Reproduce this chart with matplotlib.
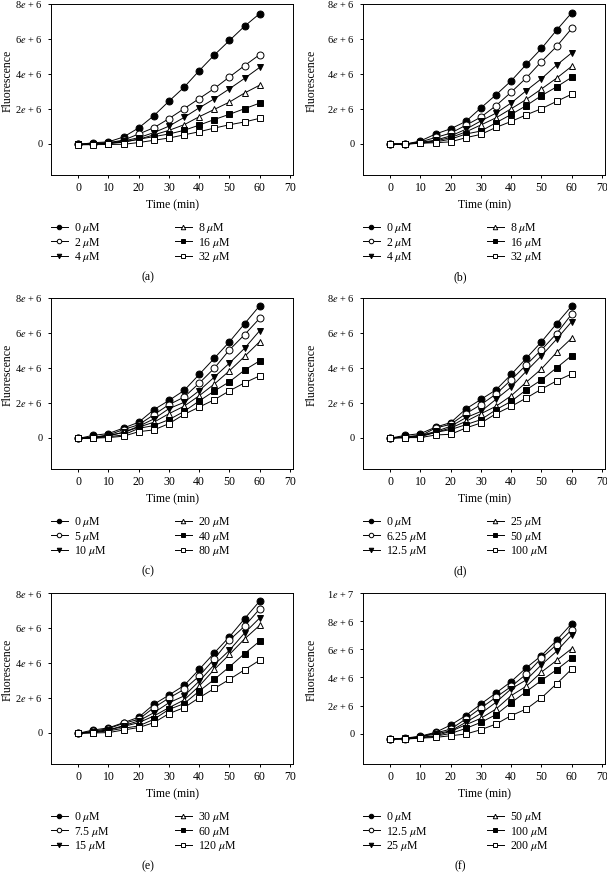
import matplotlib
matplotlib.use("Agg")
import matplotlib.pyplot as plt

plt.rcParams["font.family"] = ["Liberation Serif", "DejaVu Serif"]
plt.rcParams["mathtext.fontset"] = "stix"

W, H = 607, 876

time = [0, 5, 10, 15, 20, 25, 30, 35, 40, 45, 50, 55, 60]

# fluorescence values, in units of 1e6
conc_a = ["0", "2", "4", "8", "16", "32"]
fluo_a = [
    [-0.05, 0.05, 0.10, 0.38, 0.90, 1.60, 2.43, 3.23, 4.18, 5.08, 5.91, 6.73, 7.45],
    [-0.05, 0.00, 0.05, 0.20, 0.55, 0.91, 1.43, 2.00, 2.58, 3.16, 3.82, 4.47, 5.10],
    [-0.05, 0.00, 0.05, 0.15, 0.34, 0.63, 1.00, 1.50, 2.05, 2.57, 3.14, 3.74, 4.37],
    [-0.05, -0.02, 0.02, 0.10, 0.25, 0.50, 0.76, 1.08, 1.54, 1.96, 2.38, 2.90, 3.35],
    [-0.05, -0.03, 0.00, 0.08, 0.25, 0.40, 0.55, 0.76, 1.06, 1.38, 1.68, 2.00, 2.32],
    [-0.07, -0.06, -0.05, -0.04, 0.06, 0.19, 0.32, 0.50, 0.68, 0.89, 1.08, 1.24, 1.45],
]

conc_b = ["0", "2", "4", "8", "16", "32"]
fluo_b = [
    [-0.03, -0.03, 0.15, 0.55, 0.85, 1.27, 2.05, 2.80, 3.60, 4.54, 5.45, 6.50, 7.50],
    [-0.03, -0.03, 0.10, 0.35, 0.60, 1.05, 1.52, 2.18, 2.95, 3.77, 4.70, 5.57, 6.60],
    [-0.03, -0.03, 0.07, 0.20, 0.44, 0.82, 1.30, 1.75, 2.33, 3.04, 3.72, 4.50, 5.20],
    [-0.03, -0.03, 0.05, 0.15, 0.35, 0.67, 1.07, 1.48, 2.00, 2.53, 3.13, 3.75, 4.43],
    [-0.03, -0.03, 0.03, 0.10, 0.25, 0.55, 0.72, 1.20, 1.67, 2.18, 2.75, 3.25, 3.80],
    [-0.03, -0.03, 0.02, 0.05, 0.10, 0.34, 0.53, 0.93, 1.27, 1.65, 2.00, 2.42, 2.83],
]

conc_c = ["0", "5", "10", "20", "40", "80"]
fluo_c = [
    [-0.05, 0.13, 0.23, 0.55, 0.88, 1.60, 2.13, 2.70, 3.62, 4.55, 5.49, 6.53, 7.56],
    [-0.05, 0.02, 0.15, 0.46, 0.74, 1.31, 1.89, 2.32, 3.12, 3.98, 5.03, 5.90, 6.84],
    [-0.05, 0.02, 0.12, 0.30, 0.65, 1.07, 1.66, 2.02, 2.69, 3.47, 4.27, 5.12, 6.13],
    [-0.05, 0.00, 0.10, 0.30, 0.60, 0.88, 1.37, 1.80, 2.40, 3.07, 3.83, 4.65, 5.50],
    [-0.05, -0.03, 0.05, 0.15, 0.53, 0.69, 1.03, 1.50, 2.10, 2.67, 3.20, 3.87, 4.40],
    [-0.05, -0.03, 0.00, 0.08, 0.34, 0.44, 0.80, 1.33, 1.75, 2.17, 2.68, 3.14, 3.54],
]

conc_d = ["0", "6.25", "12.5", "25", "50", "100"]
fluo_d = [
    [-0.03, 0.13, 0.23, 0.60, 0.86, 1.64, 2.19, 2.74, 3.62, 4.55, 5.49, 6.53, 7.54],
    [-0.03, 0.05, 0.10, 0.55, 0.76, 1.37, 1.89, 2.50, 3.31, 4.17, 5.03, 5.96, 7.08],
    [-0.03, 0.05, 0.12, 0.35, 0.65, 1.14, 1.50, 2.20, 2.90, 3.81, 4.69, 5.64, 6.65],
    [-0.03, 0.03, 0.10, 0.30, 0.55, 0.93, 1.37, 1.80, 2.40, 3.18, 3.94, 4.88, 5.70],
    [-0.03, 0.00, 0.05, 0.30, 0.46, 0.74, 1.03, 1.60, 2.08, 2.74, 3.31, 4.00, 4.70],
    [-0.03, 0.00, 0.00, 0.15, 0.19, 0.55, 0.84, 1.37, 1.79, 2.27, 2.78, 3.25, 3.65],
]

conc_e = ["0", "7.5", "15", "30", "60", "120"]
fluo_e = [
    [-0.04, 0.15, 0.27, 0.57, 0.88, 1.62, 2.15, 2.70, 3.62, 4.57, 5.49, 6.53, 7.54],
    [-0.04, 0.08, 0.23, 0.53, 0.76, 1.43, 1.98, 2.48, 3.24, 4.23, 5.30, 6.10, 7.09],
    [-0.04, 0.05, 0.15, 0.40, 0.67, 1.14, 1.71, 2.10, 2.95, 3.89, 4.72, 5.71, 6.57],
    [-0.04, 0.03, 0.15, 0.35, 0.57, 0.95, 1.43, 1.87, 2.67, 3.62, 4.48, 5.37, 6.15],
    [-0.04, 0.00, 0.10, 0.25, 0.38, 0.76, 1.33, 1.66, 2.38, 3.05, 3.77, 4.53, 5.24],
    [-0.04, -0.02, 0.00, 0.15, 0.29, 0.57, 1.09, 1.43, 2.00, 2.53, 3.05, 3.60, 4.15],
]

conc_f = ["0", "12.5", "25", "50", "100", "200"]
fluo_f = [
    [-0.38, -0.31, -0.17, 0.10, 0.62, 1.29, 2.12, 2.90, 3.71, 4.69, 5.55, 6.64, 7.83],
    [-0.38, -0.35, -0.21, 0.05, 0.33, 1.05, 1.83, 2.60, 3.36, 4.24, 5.38, 6.33, 7.40],
    [-0.38, -0.33, -0.20, -0.02, 0.21, 0.81, 1.45, 2.24, 3.19, 3.83, 4.90, 5.86, 7.02],
    [-0.38, -0.35, -0.25, -0.14, 0.17, 0.64, 1.10, 1.76, 2.71, 3.38, 4.38, 5.21, 6.05],
    [-0.38, -0.36, -0.30, -0.17, 0.02, 0.38, 0.81, 1.36, 2.21, 3.00, 3.79, 4.55, 5.38],
    [-0.38, -0.38, -0.31, -0.26, -0.14, -0.02, 0.29, 0.69, 1.29, 1.76, 2.55, 3.55, 4.60],
]

# (marker, face colour) per series
styles = [("o", "black"), ("o", "white"), ("v", "black"),
          ("^", "white"), ("s", "black"), ("s", "white")]

# panel layout in pixels: left, top of axes, ylabel offset
lefts = [51, 363]
ylab_off = [37, 45]
tops = [4, 298, 593]
AW, AH = 242, 171

fig = plt.figure(figsize=(W / 100, H / 100), dpi=100)


def fx(px):
    return px / W


def fy(py):
    return 1 - py / H


def draw_panel(col, row, concs, series, label, big=False):
    left, top = lefts[col], tops[row]
    bottom = top + AH
    ax = fig.add_axes([fx(left), fy(bottom), fx(AW), AH / H])
    lines = []
    for vals, (m, fc) in zip(series, styles):
        ln, = ax.plot(time, vals, color="black", lw=0.7, marker=m,
                      markersize=5, markerfacecolor=fc,
                      markeredgecolor="black", markeredgewidth=0.7)
        lines.append(ln)
    ax.set_xlim(-9, 71)
    ax.set_xticks(range(0, 71, 10))
    if big:
        ax.set_ylim(-2.15, 10)
        ax.set_yticks([0, 2, 4, 6, 8, 10])
        ax.set_yticklabels(["0", "2$e$ + 6", "4$e$ + 6", "6$e$ + 6",
                            "8$e$ + 6", "1$e$ + 7"])
    else:
        ax.set_ylim(-1.8, 8)
        ax.set_yticks([0, 2, 4, 6, 8])
        ax.set_yticklabels(["0", "2$e$ + 6", "4$e$ + 6", "6$e$ + 6",
                            "8$e$ + 6"])
    ax.tick_params(direction="out", length=2.5, width=0.7,
                   top=False, right=False)
    ax.tick_params(axis="x", pad=2.5, labelsize=8.5)
    ax.tick_params(axis="y", pad=3.5, labelsize=7.5)
    for s in ax.spines.values():
        s.set_linewidth(0.7)
    ax.set_xlabel("Time (min)", fontsize=8.5, labelpad=3.5)
    ax.set_ylabel("Fluorescence", fontsize=8.5)
    ax.yaxis.set_label_coords(-ylab_off[col] / AW, 0.55)

    labels = [c + r" $\mu$M" for c in concs]
    leg_y = fy(bottom + 46)
    kw = dict(loc="upper left", frameon=False, fontsize=8.5,
              bbox_transform=fig.transFigure, borderpad=0, borderaxespad=0,
              handlelength=1.4, handletextpad=0.55, labelspacing=0.05,
              markerscale=0.65)
    leg1 = ax.legend(lines[:3], labels[:3], bbox_to_anchor=(fx(left), leg_y), **kw)
    ax.add_artist(leg1)
    ax.legend(lines[3:], labels[3:], bbox_to_anchor=(fx(left + 124), leg_y), **kw)

    fig.text(fx(left + 97), fy(bottom + 102), label, fontsize=8.5,
             ha="center", va="center")
    return ax


draw_panel(0, 0, conc_a, fluo_a, "(a)")
draw_panel(1, 0, conc_b, fluo_b, "(b)")
draw_panel(0, 1, conc_c, fluo_c, "(c)")
draw_panel(1, 1, conc_d, fluo_d, "(d)")
draw_panel(0, 2, conc_e, fluo_e, "(e)")
draw_panel(1, 2, conc_f, fluo_f, "(f)", big=True)

fig.savefig("out.png", dpi=100)
